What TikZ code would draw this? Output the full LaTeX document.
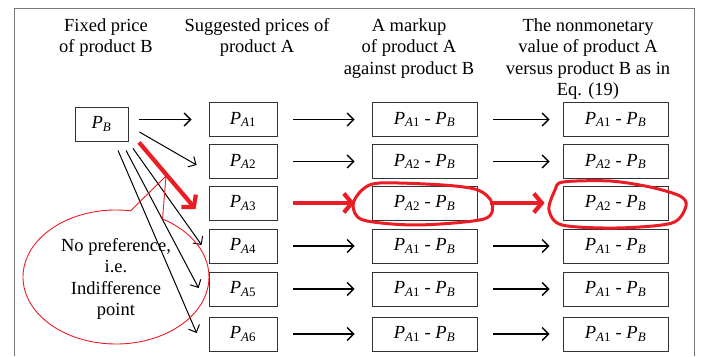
\documentclass[tikz,border=0pt]{standalone}
\usepackage{fontspec}
\setmainfont{Liberation Serif}
\usepackage{tikz}
\usetikzlibrary{arrows.meta,calc}
\definecolor{markred}{RGB}{236,28,36}
\definecolor{framegray}{RGB}{120,120,120}
\newcommand{\pv}[1]{\textit{P}\textsubscript{#1}}
\newcommand{\pa}[1]{\pv{\textit{A}#1}}
\newcommand{\pb}{\pv{\textit{B}}}
\newcommand{\diffab}[1]{\pa{#1} - \pb}
\begin{document}
\begin{tikzpicture}[x=1pt,y=1pt,
	every node/.style={font=\fontsize{18.5}{21.5}\selectfont},
	box/.style={draw=black!80, line width=0.8pt, minimum height=34pt, inner sep=0pt},
	pbox/.style={box, minimum width=68pt},
	mbox/.style={box, minimum width=105pt},
	arr/.style={-{Straight Barb[length=6.5pt,width=13pt]}, line width=1.4pt},
	fan/.style={-{Straight Barb[length=6pt,width=12pt]}, line width=1pt},
	redarr/.style={-{Straight Barb[length=8pt,width=19pt]}, markred, line width=4.2pt},
	bubble/.style={markred, line width=0.9pt},
	ring/.style={markred, line width=3pt},
	colhead/.style={align=center, anchor=north, inner sep=0pt}]
	%\draw[help lines] (0,0) grid[step=20] (701,356);
	\useasboundingbox (0,0) rectangle (701,356);
	\draw[framegray, line width=0.8pt] (14,0) -- (14,348) -- (694,348) -- (694,0);
	\node[colhead] (hb) at (106,338) {Fixed price\\of product B};
	\node[colhead] (ha) at (257,338) {Suggested prices of\\product A};
	\node[colhead] (hm) at (409,338) {A markup\\of product A\\against product B};
	\node[colhead] (hv) at (588,338) {The nonmonetary\\value of product A\\versus product B as in\\Eq. (19)};
	\node[box, minimum width=53pt] (pb) at (101.5,232) {\pb};
	\node[pbox] (pa1) at (243,236.5) {\pa{1}};
	\node[pbox] (pa2) at (243,194.5) {\pa{2}};
	\node[pbox] (pa3) at (243,153) {\pa{3}};
	\node[pbox] (pa4) at (243,110) {\pa{4}};
	\node[pbox] (pa5) at (243,67) {\pa{5}};
	\node[pbox] (pa6) at (243,22) {\pa{6}};
	\node[mbox] (mk1) at (424.5,236.5) {\diffab{1}};
	\node[mbox] (mk2) at (424.5,194.5) {\diffab{2}};
	\node[mbox] (mk3) at (424.5,153) {\diffab{2}};
	\node[mbox] (mk4) at (424.5,110) {\diffab{1}};
	\node[mbox] (mk5) at (424.5,67) {\diffab{1}};
	\node[mbox] (mk6) at (424.5,22) {\diffab{1}};
	\node[mbox] (nv1) at (615.5,236.5) {\diffab{1}};
	\node[mbox] (nv2) at (615.5,194.5) {\diffab{2}};
	\node[mbox] (nv3) at (615.5,153) {\diffab{2}};
	\node[mbox] (nv4) at (615.5,110) {\diffab{1}};
	\node[mbox] (nv5) at (615.5,67) {\diffab{1}};
	\node[mbox] (nv6) at (615.5,22) {\diffab{1}};
	\draw[arr, shorten <=11pt, shorten >=17pt] (pb.east |- pa1.west) -- (pa1.west);
	\draw[fan] ([shift={(11,-8)}]pb.east) -- ([shift={(-12,-3.5)}]pa2.west);
	\draw[redarr] ([shift={(37.5,-1)}]pb.south) -- ([shift={(-13,-6)}]pa3.west);
	\draw[fan] ([shift={(31.5,-7)}]pb.south) -- ([shift={(-7,1)}]pa4.west);
	\draw[fan] ([shift={(24.5,-9)}]pb.south) -- ([shift={(-10,1)}]pa5.west);
	\draw[fan] ([shift={(16.5,-9)}]pb.south) -- ([shift={(-12,1)}]pa6.west);
	\draw[arr, shorten <=16pt, shorten >=17pt] (pa1.east) -- (mk1.west);
	\draw[arr, shorten <=16pt, shorten >=17pt] (pa2.east) -- (mk2.west);
	\draw[redarr, shorten <=16pt, shorten >=17pt] (pa3.east) -- (mk3.west);
	\draw[arr, shorten <=16pt, shorten >=17pt] (pa4.east) -- (mk4.west);
	\draw[arr, shorten <=16pt, shorten >=17pt] (pa5.east) -- (mk5.west);
	\draw[arr, shorten <=16pt, shorten >=17pt] (pa6.east) -- (mk6.west);
	\draw[arr, shorten <=16pt, shorten >=13pt] (mk1.east) -- (nv1.west);
	\draw[arr, shorten <=16pt, shorten >=13pt] (mk2.east) -- (nv2.west);
	\draw[redarr, shorten <=13pt, shorten >=18pt] (mk3.east) -- (nv3.west);
	\draw[arr, shorten <=16pt, shorten >=13pt] (mk4.east) -- (nv4.west);
	\draw[arr, shorten <=16pt, shorten >=13pt] (mk5.east) -- (nv5.west);
	\draw[arr, shorten <=16pt, shorten >=13pt] (mk6.east) -- (nv6.west);
	\draw[ring] plot[smooth cycle] coordinates {(380,173) (443,171) (478,166) (492,153) (484,137) (417,131) (363,136) (353,151) (362,166)};
	\draw[ring] plot[smooth cycle] coordinates {(563,174) (610,175) (650,169) (680,160) (686,150) (672,133) (617,128) (562,131) (549,146) (555,166)};
	\draw[bubble] ($(116,79)+(81:93 and 67)$) arc[start angle=81, end angle=420, x radius=93, y radius=67];
	\draw[bubble] ($(116,79)+(81:93 and 67)$) -- (166,180) -- ($(116,79)+(60:93 and 67)$);
	\node[align=center, inner sep=0pt] (bt) at (116,77) {No preference,\\i.e.\\Indifference\\point};
\end{tikzpicture}
\end{document}
